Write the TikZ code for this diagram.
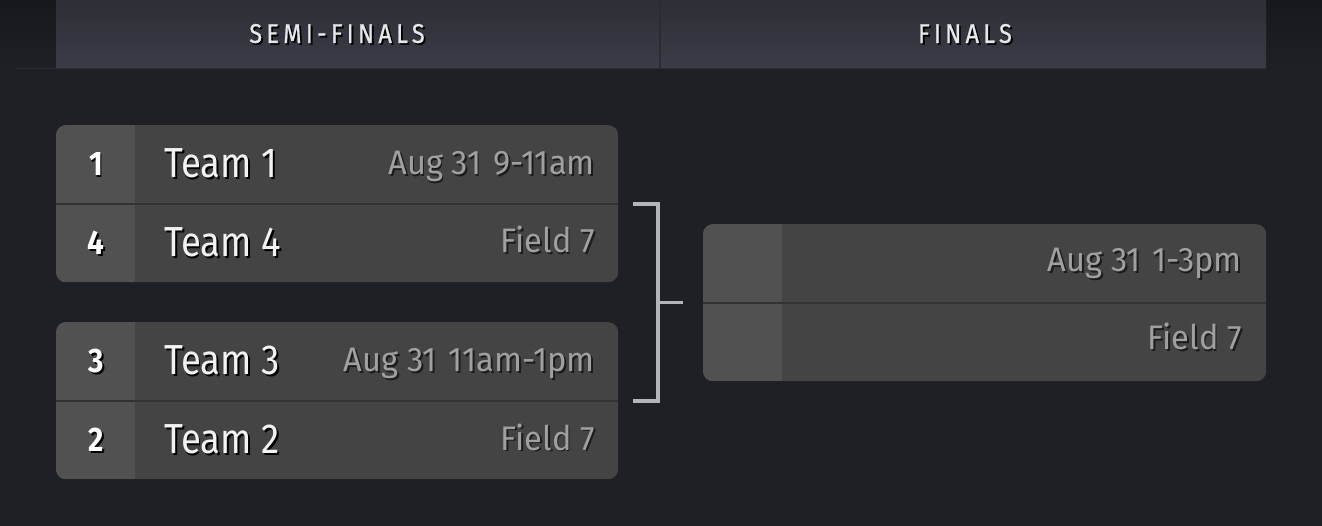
\documentclass[tikz,border=0pt]{standalone}
\usepackage{fontspec}
\setmainfont{Fira Sans}[FakeStretch=0.87]
\newfontfamily\infofont{Fira Sans}[FakeStretch=0.96]
\usetikzlibrary{calc}

\definecolor{bgdark}{HTML}{1F2025}
\definecolor{bgtop}{HTML}{17181C}
\definecolor{headtop}{HTML}{2D2F36}
\definecolor{headgray}{HTML}{3A3D47}
\definecolor{headline}{HTML}{2A2C32}
\definecolor{headtext}{HTML}{E6E7EA}
\definecolor{rowgray}{HTML}{444444}
\definecolor{seedgray}{HTML}{515151}
\definecolor{rowline}{HTML}{333333}
\definecolor{bracketgray}{HTML}{B3B5B9}
\definecolor{infogray}{HTML}{A0A0A0}
\definecolor{shadowgray}{HTML}{1C1C1C}

% text with a small drop shadow
\newcommand{\shd}[2]{\makebox[0pt][l]{\hspace{1.8pt}\raisebox{-1.8pt}{\color{#1}#2}}#2}

\tikzset{
  match/.style={rectangle, rounded corners=10pt, fill=rowgray, minimum width=562pt,
    minimum height=157pt, inner sep=0pt, anchor=north west},
  headtitle/.style={inner sep=0pt, text=headtext,
    font=\fontsize{27}{27}\selectfont\addfontfeature{LetterSpace=16,FakeBold=0.8}},
  seednum/.style={inner sep=0pt, anchor=base, text=white,
    font=\fontsize{34}{34}\selectfont\bfseries},
  team/.style={inner sep=0pt, anchor=base west, text=white!95!black,
    font=\fontsize{42}{42}\selectfont},
  info/.style={inner sep=0pt, anchor=base east, text=infogray,
    font=\infofont\fontsize{34}{34}\selectfont},
  bracket/.style={draw=bracketgray, line width=4pt}
}

\begin{document}
\begin{tikzpicture}[x=1pt, y=-1pt]
  \useasboundingbox (0,0) rectangle (1322,526);
  \fill[bgdark] (0,0) rectangle (1322,526);
  \shade[top color=bgtop, bottom color=bgdark] (0,0) rectangle (1322,68);

  % header bar
  \shade[top color=headtop, bottom color=headgray] (56,0) rectangle (1266,68);
  \draw[headline, line width=1.5pt] (15,68.5) -- (1266,68.5);
  \draw[headline, line width=2pt] (660,0) -- (660,68);
  \node[headtitle] (hsemi) at (337,34.5) {\shd{black}{SEMI-FINALS}};
  \node[headtitle] (hfinal) at (965,34.5) {\shd{black}{FINALS}};

  % match boxes
  \node[match] (sf1) at (56,125) {};
  \node[match] (sf2) at (56,322) {};
  \node[match, minimum width=563pt] (fin) at (703,224) {};
  \foreach \m in {sf1,sf2,fin}{
    \begin{scope}
      \clip[rounded corners=10pt] (\m.north west) rectangle (\m.south east);
      \fill[seedgray] (\m.north west) rectangle ($(\m.south west)+(79,0)$);
    \end{scope}
    \draw[rowline, line width=2pt] (\m.west) -- (\m.east);
  }

  % semi-final 1
  \node[seednum] (seed1) at (96,175.5) {\shd{black}{1}};
  \node[team] (team1) at (164,177.5) {\shd{black}{Team 1}};
  \node[info] (when1) at (595,174.5) {\shd{shadowgray}{Aug 31\hspace{12pt}9-11am}};
  \node[seednum] (seed4) at (96,254.5) {\shd{black}{4}};
  \node[team] (team4) at (164,256.5) {\shd{black}{Team 4}};
  \node[info] (where1) at (595,253) {\shd{shadowgray}{Field 7}};

  % semi-final 2
  \node[seednum] (seed3) at (96,372.5) {\shd{black}{3}};
  \node[team] (team3) at (164,374.5) {\shd{black}{Team 3}};
  \node[info] (when2) at (595,371.5) {\shd{shadowgray}{Aug 31\hspace{12pt}11am-1pm}};
  \node[seednum] (seed2) at (96,451.5) {\shd{black}{2}};
  \node[team] (team2) at (164,453.5) {\shd{black}{Team 2}};
  \node[info] (where2) at (595,450) {\shd{shadowgray}{Field 7}};

  % final
  \node[info] (when3) at (1242,272) {\shd{shadowgray}{Aug 31\hspace{12pt}1-3pm}};
  \node[info] (where3) at (1242,349.5) {\shd{shadowgray}{Field 7}};

  % bracket
  \coordinate (btop) at ($(sf1.east)+(15,0)$);
  \coordinate (bbot) at ($(sf2.east)+(15,0)$);
  \coordinate (bjoin) at ($(sf1.east)!0.5!(sf2.east)+(40,0)$);
  \draw[bracket] (btop) -- ++(25,0) |- (bbot);
  \draw[bracket, line width=3pt] (bjoin) -- ++(25,0);
\end{tikzpicture}
\end{document}
